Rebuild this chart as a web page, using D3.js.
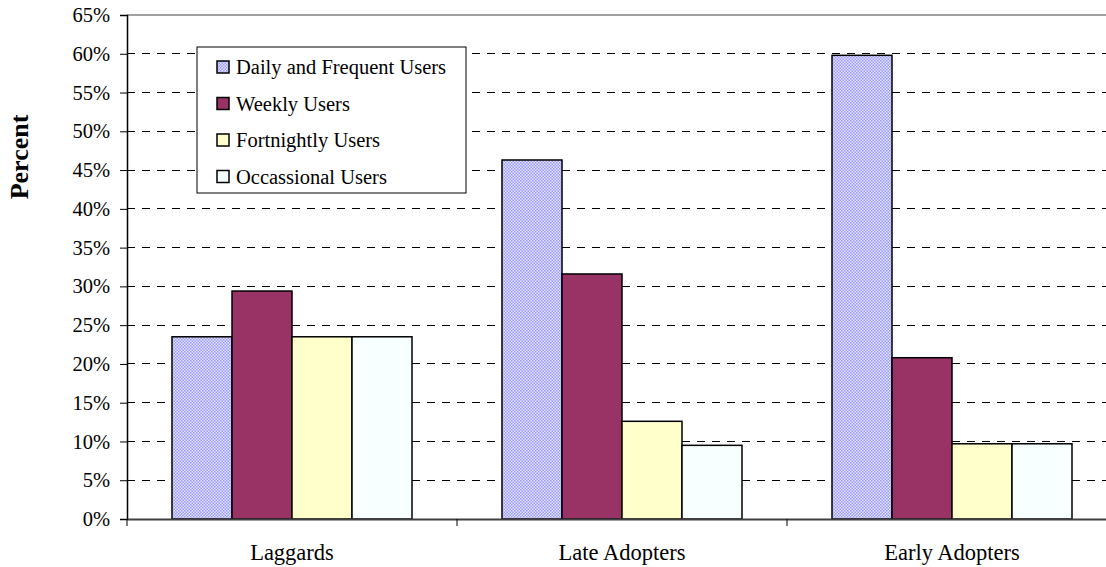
<!DOCTYPE html>
<html>
<head>
<meta charset="utf-8">
<script src="https://cdn.jsdelivr.net/npm/d3@7"></script>
<style>
  body { margin: 0; background: #fff; }
  svg text { font-family: "Liberation Serif", "Times New Roman", serif; }
</style>
</head>
<body>
<svg class="chart" width="1106" height="567"></svg>
<script>
// chart values
const categories = ["Laggards", "Late Adopters", "Early Adopters"]
const seriesNames = ["Daily and Frequent Users", "Weekly Users", "Fortnightly Users", "Occassional Users"]
const daily = [23.5, 46.3, 59.8]
const weekly = [29.4, 31.6, 20.8]
const fortnightly = [23.5, 12.6, 9.7]
const occasional = [23.5, 9.5, 9.7]
const yTicks = [0, 5, 10, 15, 20, 25, 30, 35, 40, 45, 50, 55, 60, 65]

const seriesValues = [daily, weekly, fortnightly, occasional]
const fills = ["url(#dots)", "#993366", "#ffffcc", "#f8ffff"]

const margin = {top: 15, left: 127, bottom: 48}
const width = 990
const height = 567 - margin.top - margin.bottom

let svg = d3.select('.chart')

// dotted fill for the first series
let pat = svg.append("defs").append("pattern")
    .attr("id", "dots")
    .attr("width", 3).attr("height", 3)
    .attr("patternUnits", "userSpaceOnUse")
pat.append("rect").attr("width", 3).attr("height", 3).attr("fill", "#e4e4fb")
pat.append("rect").attr("width", 1.5).attr("height", 1.5).attr("fill", "#9999ff")
pat.append("rect").attr("x", 1.5).attr("y", 1.5).attr("width", 1.5).attr("height", 1.5).attr("fill", "#9999ff")

let g = svg.append("g")
    .attr("transform", `translate(${margin.left},${margin.top})`)

let x0 = d3.scaleBand()
    .domain(categories)
    .range([0, width])
    .paddingInner(0)

let x1 = d3.scaleBand()
    .domain(d3.range(seriesNames.length))
    .range([45, x0.bandwidth() - 45])

let y = d3.scaleLinear()
    .domain([0, 65])
    .range([height, 0])

// gridlines
g.append("g")
    .selectAll("line")
    .data(yTicks.filter(d => d > 0 && d < 65))
    .enter().append("line")
    .attr("x1", 0).attr("x2", width)
    .attr("y1", d => y(d)).attr("y2", d => y(d))
    .attr("stroke", "#000")
    .attr("stroke-dasharray", "8,7")
    .attr("shape-rendering", "crispEdges")

// top border of plot
g.append("line")
    .attr("x1", 0).attr("x2", width)
    .attr("y1", y(65)).attr("y2", y(65))
    .attr("stroke", "#808080")
    .attr("stroke-width", 1.5)

// bars
seriesValues.forEach(function(vals, si){
    g.append("g")
        .selectAll("rect")
        .data(vals)
        .enter().append("rect")
        .attr("x", (d, i) => x0(categories[i]) + x1(si))
        .attr("width", x1.bandwidth())
        .attr("y", d => y(d))
        .attr("height", d => height - y(d))
        .attr("fill", fills[si])
        .attr("stroke", "#000")
        .attr("stroke-width", 1.5)
})

// y axis
let yAxis = g.append("g")
    .call(d3.axisLeft(y).tickValues(yTicks).tickFormat(d => d + "%").tickSizeOuter(0).tickSize(7))
yAxis.attr("font-family", null).attr("font-size", null)
yAxis.select(".domain").attr("stroke", "#000").attr("stroke-width", 1.5)
yAxis.selectAll(".tick line").attr("stroke", "#000")
yAxis.selectAll("text")
    .attr("font-size", "20.5px")
    .attr("fill", "#000")
    .attr("x", -17)

// x axis
let xAxis = g.append("g")
    .attr("transform", `translate(0,${height})`)
    .call(d3.axisBottom(x0).tickSize(0).tickSizeOuter(0))
xAxis.attr("font-family", null).attr("font-size", null)
xAxis.select(".domain").attr("stroke", "#404040").attr("stroke-width", 2)
xAxis.selectAll("text")
    .attr("font-size", "22.5px")
    .attr("fill", "#000")
    .attr("dy", 38)

g.append("g")
    .selectAll("line")
    .data(categories)
    .enter().append("line")
    .attr("x1", d => x0(d)).attr("x2", d => x0(d))
    .attr("y1", height).attr("y2", height + 7)
    .attr("stroke", "#000")

// axis title
svg.append("text")
    .attr("transform", "translate(28,157) rotate(-90)")
    .attr("text-anchor", "middle")
    .attr("font-size", "26px")
    .attr("font-weight", "bold")
    .text("Percent")

// legend
let legend = svg.append("g").attr("transform", "translate(197,47)")
legend.append("rect")
    .attr("width", 269).attr("height", 146)
    .attr("fill", "#fff")
    .attr("stroke", "#000")
    .attr("stroke-width", 1)

let items = legend.selectAll(".item")
    .data(seriesNames)
    .enter().append("g")
    .attr("transform", (d, i) => `translate(20,${20 + i * 36.5})`)
items.append("rect")
    .attr("x", 0).attr("y", -6)
    .attr("width", 12).attr("height", 12)
    .attr("fill", (d, i) => fills[i])
    .attr("stroke", "#000")
    .attr("stroke-width", 1.5)
items.append("text")
    .attr("x", 19)
    .attr("dy", "0.35em")
    .attr("font-size", "20.5px")
    .text(d => d)
</script>
</body>
</html>
